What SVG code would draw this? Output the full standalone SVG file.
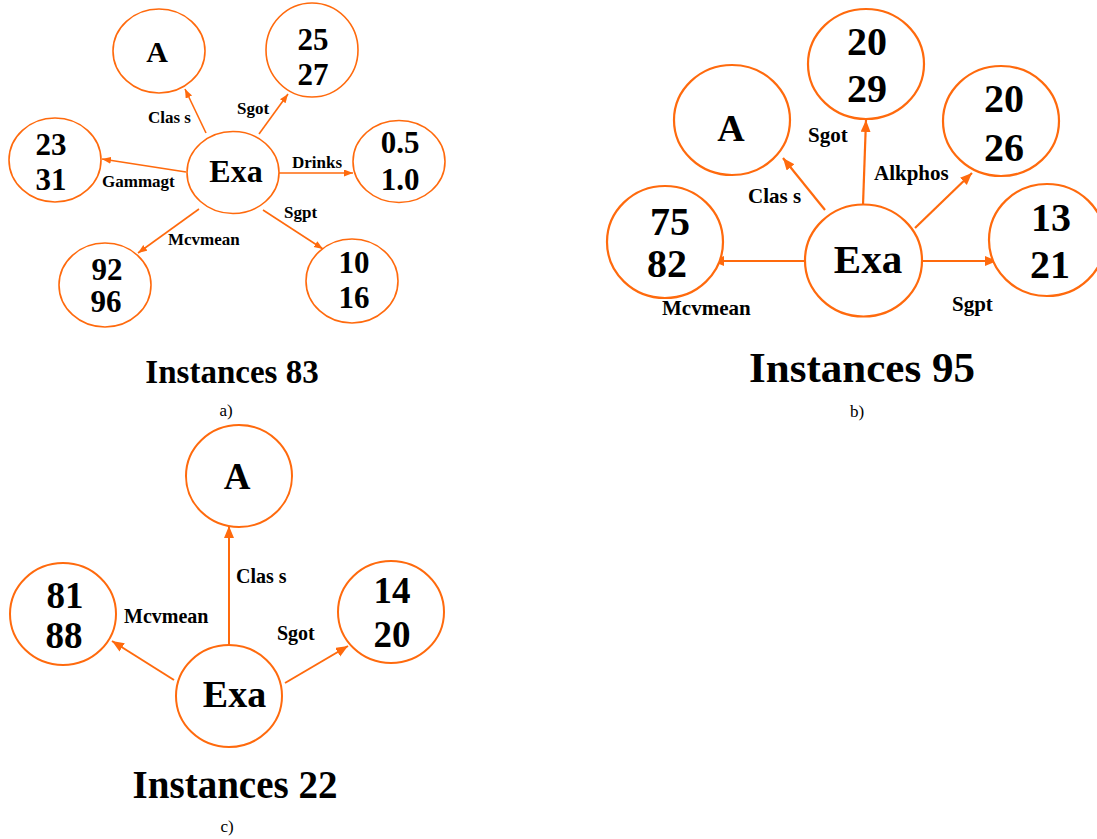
<svg xmlns="http://www.w3.org/2000/svg" width="1097" height="839" viewBox="0 0 1097 839">
<defs>
<style>
.n{fill:#fff;stroke:#FF6A0D}
.na{stroke-width:1.6}
.nb{stroke-width:2.2}
.nc{stroke-width:2}
.e{stroke:#FF6A0D;fill:none}
.ea{stroke-width:1.6}
.eb{stroke-width:2.2}
.ec{stroke-width:2}
text{font-family:"Liberation Serif","Times New Roman",serif;font-weight:bold;fill:#000}
.t{text-anchor:middle}
.cap{font-weight:normal;text-anchor:middle;font-size:17px}
</style>
<marker id="ma" markerUnits="userSpaceOnUse" markerWidth="10" markerHeight="8" refX="9" refY="3.5" orient="auto"><path d="M0,0 L9,3.5 L0,7 z" fill="#FF6A0D"/></marker>
<marker id="mb" markerUnits="userSpaceOnUse" markerWidth="13" markerHeight="11" refX="12" refY="5" orient="auto"><path d="M0,0 L12,5 L0,10 z" fill="#FF6A0D"/></marker>
</defs>
<rect width="1097" height="839" fill="#fff"/>

<g id="edges">
<!-- a -->
<line class="e ea" x1="206" y1="133" x2="185" y2="89" marker-end="url(#ma)"/>
<line class="e ea" x1="259" y1="134" x2="288" y2="94" marker-end="url(#ma)"/>
<line class="e ea" x1="186" y1="172" x2="102" y2="159" marker-end="url(#ma)"/>
<line class="e ea" x1="279" y1="173" x2="353" y2="173" marker-end="url(#ma)"/>
<line class="e ea" x1="199" y1="209" x2="138" y2="253" marker-end="url(#ma)"/>
<line class="e ea" x1="263" y1="210" x2="323" y2="249" marker-end="url(#ma)"/>
<!-- b -->
<line class="e eb" x1="863" y1="205" x2="866" y2="120" marker-end="url(#mb)"/>
<line class="e eb" x1="825" y1="210" x2="783" y2="158" marker-end="url(#mb)"/>
<line class="e eb" x1="915" y1="228" x2="972" y2="173" marker-end="url(#mb)"/>
<line class="e eb" x1="805" y1="261" x2="712" y2="261" marker-end="url(#mb)"/>
<line class="e eb" x1="922" y1="261" x2="997" y2="261" marker-end="url(#mb)"/>
<!-- c -->
<line class="e ec" x1="229" y1="645" x2="229" y2="526" marker-end="url(#mb)"/>
<line class="e ec" x1="174" y1="680" x2="112" y2="641" marker-end="url(#mb)"/>
<line class="e ec" x1="285" y1="683" x2="348" y2="646" marker-end="url(#mb)"/>
</g>

<g id="edge-labels">
<text x="148" y="123" font-size="17">Clas s</text>
<text x="237" y="114" font-size="17">Sgot</text>
<text x="102" y="187" font-size="17">Gammagt</text>
<text x="292" y="168" font-size="17">Drinks</text>
<text x="284" y="218" font-size="17">Sgpt</text>
<text x="168" y="245" font-size="17">Mcvmean</text>

<text x="808" y="142" font-size="21">Sgot</text>
<text x="748" y="203" font-size="21">Clas s</text>
<text x="874" y="180" font-size="21">Alkphos</text>
<text x="662" y="315" font-size="21">Mcvmean</text>
<text x="952" y="311" font-size="21">Sgpt</text>

<text x="236" y="583" font-size="20">Clas s</text>
<text x="124" y="623" font-size="20">Mcvmean</text>
<text x="277" y="640" font-size="20">Sgot</text>
</g>

<!-- diagram a nodes -->
<g id="a-A"><ellipse class="n na" cx="159" cy="51" rx="46" ry="42"/><text class="t" x="157" y="62" font-size="30">A</text></g>
<g id="a-sgot"><ellipse class="n na" cx="312" cy="50" rx="46" ry="47"/><text class="t" x="313" y="50" font-size="31">25</text><text class="t" x="313" y="85" font-size="31">27</text></g>
<g id="a-exa"><ellipse class="n na" cx="233" cy="172.5" rx="46" ry="41"/><text class="t" x="236" y="182" font-size="32">Exa</text></g>
<g id="a-gamma"><ellipse class="n na" cx="55" cy="160" rx="46" ry="42"/><text class="t" x="51" y="155" font-size="31">23</text><text class="t" x="51" y="190" font-size="31">31</text></g>
<g id="a-drinks"><ellipse class="n na" cx="399" cy="161.5" rx="46" ry="41"/><text class="t" x="400" y="153" font-size="31">0.5</text><text class="t" x="400" y="190" font-size="31">1.0</text></g>
<g id="a-mcv"><ellipse class="n na" cx="105" cy="285" rx="46" ry="42"/><text class="t" x="107" y="280" font-size="31">92</text><text class="t" x="106" y="312" font-size="31">96</text></g>
<g id="a-sgpt"><ellipse class="n na" cx="352" cy="281" rx="46" ry="42"/><text class="t" x="354" y="273" font-size="31">10</text><text class="t" x="354" y="308" font-size="31">16</text></g>
<text class="t" x="232" y="383" font-size="33">Instances 83</text>
<text class="cap" x="226" y="416">a)</text>

<!-- diagram b nodes -->
<g id="b-A"><ellipse class="n nb" cx="732" cy="120" rx="58" ry="55"/><text class="t" x="731" y="141" font-size="38">A</text></g>
<g id="b-sgot"><ellipse class="n nb" cx="866" cy="64" rx="58" ry="55"/><text class="t" x="867" y="55" font-size="40">20</text><text class="t" x="867" y="102" font-size="40">29</text></g>
<g id="b-alk"><ellipse class="n nb" cx="1001" cy="121" rx="58" ry="55"/><text class="t" x="1004" y="112" font-size="40">20</text><text class="t" x="1004" y="161" font-size="40">26</text></g>
<g id="b-mcv"><ellipse class="n nb" cx="665" cy="242" rx="58" ry="56"/><text class="t" x="670" y="235" font-size="40">75</text><text class="t" x="667" y="277" font-size="40">82</text></g>
<g id="b-exa"><ellipse class="n nb" cx="863.5" cy="260.5" rx="58.5" ry="56"/><text class="t" x="868" y="273" font-size="41">Exa</text></g>
<g id="b-sgpt"><ellipse class="n nb" cx="1047" cy="240" rx="58" ry="56"/><text class="t" x="1051" y="231" font-size="40">13</text><text class="t" x="1050" y="278" font-size="40">21</text></g>
<text class="t" x="862" y="382" font-size="43">Instances 95</text>
<text class="cap" x="857" y="417">b)</text>

<!-- diagram c nodes -->
<g id="c-A"><ellipse class="n nc" cx="239" cy="476" rx="53" ry="51"/><text class="t" x="237" y="489" font-size="37">A</text></g>
<g id="c-mcv"><ellipse class="n nc" cx="63" cy="614" rx="53" ry="51"/><text class="t" x="65" y="608" font-size="37">81</text><text class="t" x="64" y="648" font-size="37">88</text></g>
<g id="c-sgot"><ellipse class="n nc" cx="391" cy="612" rx="53" ry="51"/><text class="t" x="392" y="603" font-size="37">14</text><text class="t" x="392" y="647" font-size="37">20</text></g>
<g id="c-exa"><ellipse class="n nc" cx="229" cy="696" rx="53" ry="51"/><text class="t" x="234.5" y="707" font-size="38">Exa</text></g>
<text class="t" x="235" y="798" font-size="39">Instances 22</text>
<text class="cap" x="227" y="832">c)</text>
</svg>
